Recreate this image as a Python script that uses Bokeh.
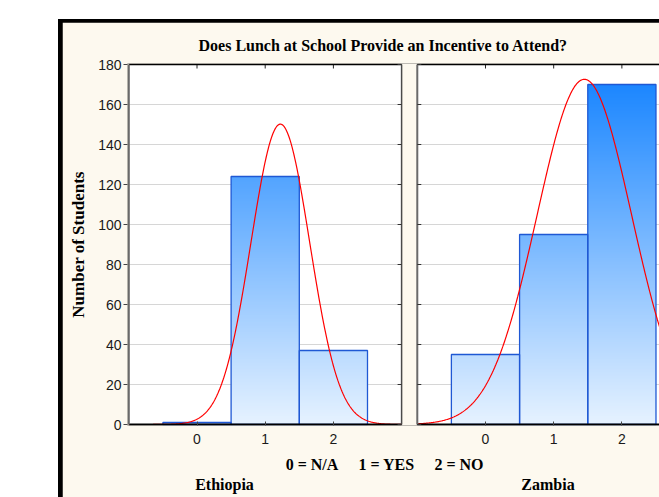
import numpy as np
from bokeh.plotting import figure
from bokeh.models import (Range1d, LinearAxis, FixedTicker, CustomJSTickFormatter)
from bokeh.layouts import column
from bokeh.embed import file_html
from bokeh.resources import INLINE

# ---------------- data ----------------
categories = [0, 1, 2]
ethiopia_counts = [1, 124, 37]
zambia_counts = [35, 95, 170]
y_ticks = [0, 20, 40, 60, 80, 100, 120, 140, 160, 180]
x_ticks = [0, 1, 2]
x_label_parts = ["0 = N/A", "1 = YES", "2 = NO"]
panel_names = ["Ethiopia", "Zambia"]
title_text = "Does Lunch at School Provide an Incentive to Attend?"
y_label = "Number of Students"

# ---------------- geometry / style ----------------
PX_X = 68.2          # pixels per x unit
PX_Y = 2.0           # pixels per y unit
XMIN, XMAX = -1, 3   # panel x extent
YMIN, YMAX = 0, 180
OFFSET = 4.23        # second panel shift (x units)
CANVAS_W, CANVAS_H = 597, 475
BORDER_L, BORDER_T, BORDER_B = 65, 41, 72
FRAME_W = CANVAS_W - BORDER_L
CREAM = "#fdf9ef"
LOW = (230, 242, 255)
HIGH = (16, 128, 255)
OUTLINE = "#1f58d4"
GRID = "#d6d6d6"
SERIF = "Liberation Serif"

x0 = XMIN - 1.3 / PX_X
x_range = Range1d(x0, x0 + FRAME_W / PX_X)
y_range = Range1d(YMIN - 0.5, YMAX + 0.5)

p = figure(width=CANVAS_W, height=CANVAS_H, x_range=x_range, y_range=y_range,
           output_backend="svg", toolbar_location=None,
           min_border_left=BORDER_L, min_border_right=0,
           min_border_top=BORDER_T, min_border_bottom=BORDER_B,
           background_fill_color=CREAM, border_fill_color=CREAM)
p.extra_x_ranges = {"zam": Range1d(x_range.start - OFFSET, x_range.end - OFFSET)}
p.outline_line_color = None
p.grid.visible = False

# title
p.title.text = title_text
p.title.align = "left"
p.title.offset = 198 - 127
p.title.standoff = 20
p.title.text_font = SERIF
p.title.text_font_style = "bold"
p.title.text_font_size = "16px"
p.title.text_color = "black"

# y axis
tick_font = "Liberation Sans"
p.yaxis.ticker = FixedTicker(ticks=y_ticks)
p.yaxis.axis_line_color = None
p.yaxis.major_tick_in = 0
p.yaxis.major_tick_out = 4
p.yaxis.minor_tick_line_color = None
p.yaxis.major_tick_line_color = "#444444"
p.yaxis.major_label_standoff = 2
p.yaxis.major_label_text_font = tick_font
p.yaxis.major_label_text_font_size = "14px"
p.yaxis.major_label_text_color = "#1a1a1a"
p.yaxis.axis_label = y_label
p.yaxis.axis_label_text_font = SERIF
p.yaxis.axis_label_text_font_style = "bold"
p.yaxis.axis_label_text_font_size = "17px"
p.yaxis.axis_label_text_color = "black"
p.yaxis.axis_label_standoff = 7

# x axis (both panels share one row of ticks)
all_x_ticks = list(x_ticks) + [t + OFFSET for t in x_ticks]
fmt = CustomJSTickFormatter(args=dict(off=OFFSET),
                            code="return String(Math.round(tick > 3.5 ? tick - off : tick));")
p.xaxis.ticker = FixedTicker(ticks=all_x_ticks)
p.xaxis.formatter = fmt
p.xaxis.axis_line_color = None
p.xaxis.major_tick_in = 4
p.xaxis.major_tick_out = 0
p.xaxis.minor_tick_line_color = None
p.xaxis.major_tick_line_color = "#444444"
p.xaxis.major_label_standoff = 8
p.xaxis.major_label_text_font = tick_font
p.xaxis.major_label_text_font_size = "14px"
p.xaxis.major_label_text_color = "#1a1a1a"


def px_x(page_x):
    return XMIN + (page_x - 128.3) / PX_X


def text_axis(labels, centers, standoff):
    ax = LinearAxis(ticker=FixedTicker(ticks=[px_x(c) for c in centers]),
                    formatter=CustomJSTickFormatter(args=dict(labels=labels),
                                                    code="return labels[index];"),
                    axis_line_color=None, major_tick_line_color=None,
                    minor_tick_line_color=None, major_tick_in=0, major_tick_out=0,
                    major_label_standoff=standoff, major_label_text_font=SERIF,
                    major_label_text_font_style="bold", major_label_text_font_size="16px",
                    major_label_text_color="black")
    p.add_layout(ax, "below")


text_axis(x_label_parts, [311.5, 386, 458.5], 9)
text_axis(panel_names, [224, 547.5], 0)


def panel(counts, rng):
    kw = {} if rng is None else {"x_range_name": rng}
    # white plot area
    p.quad(left=[XMIN], right=[XMAX], bottom=[YMIN], top=[YMAX],
           fill_color="white", line_color=None, **kw)
    # grid lines
    gy = [t for t in y_ticks if YMIN < t < YMAX]
    p.segment(x0=[XMIN] * len(gy), x1=[XMAX] * len(gy), y0=gy, y1=gy,
              line_color=GRID, line_width=1, **kw)
    # gradient bars (value-based vertical gradient)
    L, R, B, T, C = [], [], [], [], []
    step = 0.5
    for c, h in zip(categories, counts):
        b = 0.0
        while b < h - 1e-9:
            t = min(b + step, h)
            frac = ((b + t) / 2) / YMAX
            col = tuple(int(round(LOW[i] + (HIGH[i] - LOW[i]) * frac)) for i in range(3))
            L.append(c - 0.5); R.append(c + 0.5)
            B.append(b); T.append(min(t + 0.3, h))
            C.append("#%02x%02x%02x" % col)
            b = t
    p.quad(left=L, right=R, bottom=B, top=T, fill_color=C, line_color=None, **kw)
    p.quad(left=[c - 0.5 for c in categories], right=[c + 0.5 for c in categories],
           bottom=[0] * len(categories), top=counts, fill_color=None,
           line_color=OUTLINE, line_width=1.3, **kw)
    # fitted normal curve
    n = float(sum(counts))
    mean = sum(c * k for c, k in zip(categories, counts)) / n
    sd = np.sqrt(sum(k * (c - mean) ** 2 for c, k in zip(categories, counts)) / n)
    xs = np.linspace(XMIN, XMAX, 400)
    ys = n * np.exp(-0.5 * ((xs - mean) / sd) ** 2) / (sd * np.sqrt(2 * np.pi))
    p.line(xs, ys, line_color="#ff0000", line_width=1.2, **kw)
    # top ticks (pointing inward)
    p.segment(x0=x_ticks, x1=x_ticks, y0=[YMAX] * len(x_ticks),
              y1=[YMAX - 4 / PX_Y] * len(x_ticks), line_color="#222222", line_width=1, **kw)
    # borders
    p.segment(x0=[XMIN, XMIN], x1=[XMAX, XMAX], y0=[YMAX, YMIN], y1=[YMAX, YMIN],
              line_color="black", line_width=[1.5, 2.2], **kw)
    p.segment(x0=[XMIN], x1=[XMIN], y0=[YMIN], y1=[YMAX],
              line_color="#6a6a6a", line_width=2, **kw)
    p.segment(x0=[XMAX], x1=[XMAX], y0=[YMIN], y1=[YMAX],
              line_color="#4a4a4a", line_width=1.5, **kw)


panel(ethiopia_counts, None)
panel(zambia_counts, "zam")

# inner ticks on the shared inner sides
tick_len = 4 / PX_X
p.segment(x0=[XMAX] * len(y_ticks), x1=[XMAX - tick_len] * len(y_ticks),
          y0=y_ticks, y1=y_ticks, line_color="#333333", line_width=1)
p.segment(x0=[XMIN] * len(y_ticks), x1=[XMIN + tick_len] * len(y_ticks),
          y0=y_ticks, y1=y_ticks, line_color="#333333", line_width=1, x_range_name="zam")

p.margin = (3, 0, 0, 4)
layout = column(p, margin=(19, 0, 0, 58), styles={"background-color": "black"})

open("out.html", "w").write(file_html(layout, INLINE))
